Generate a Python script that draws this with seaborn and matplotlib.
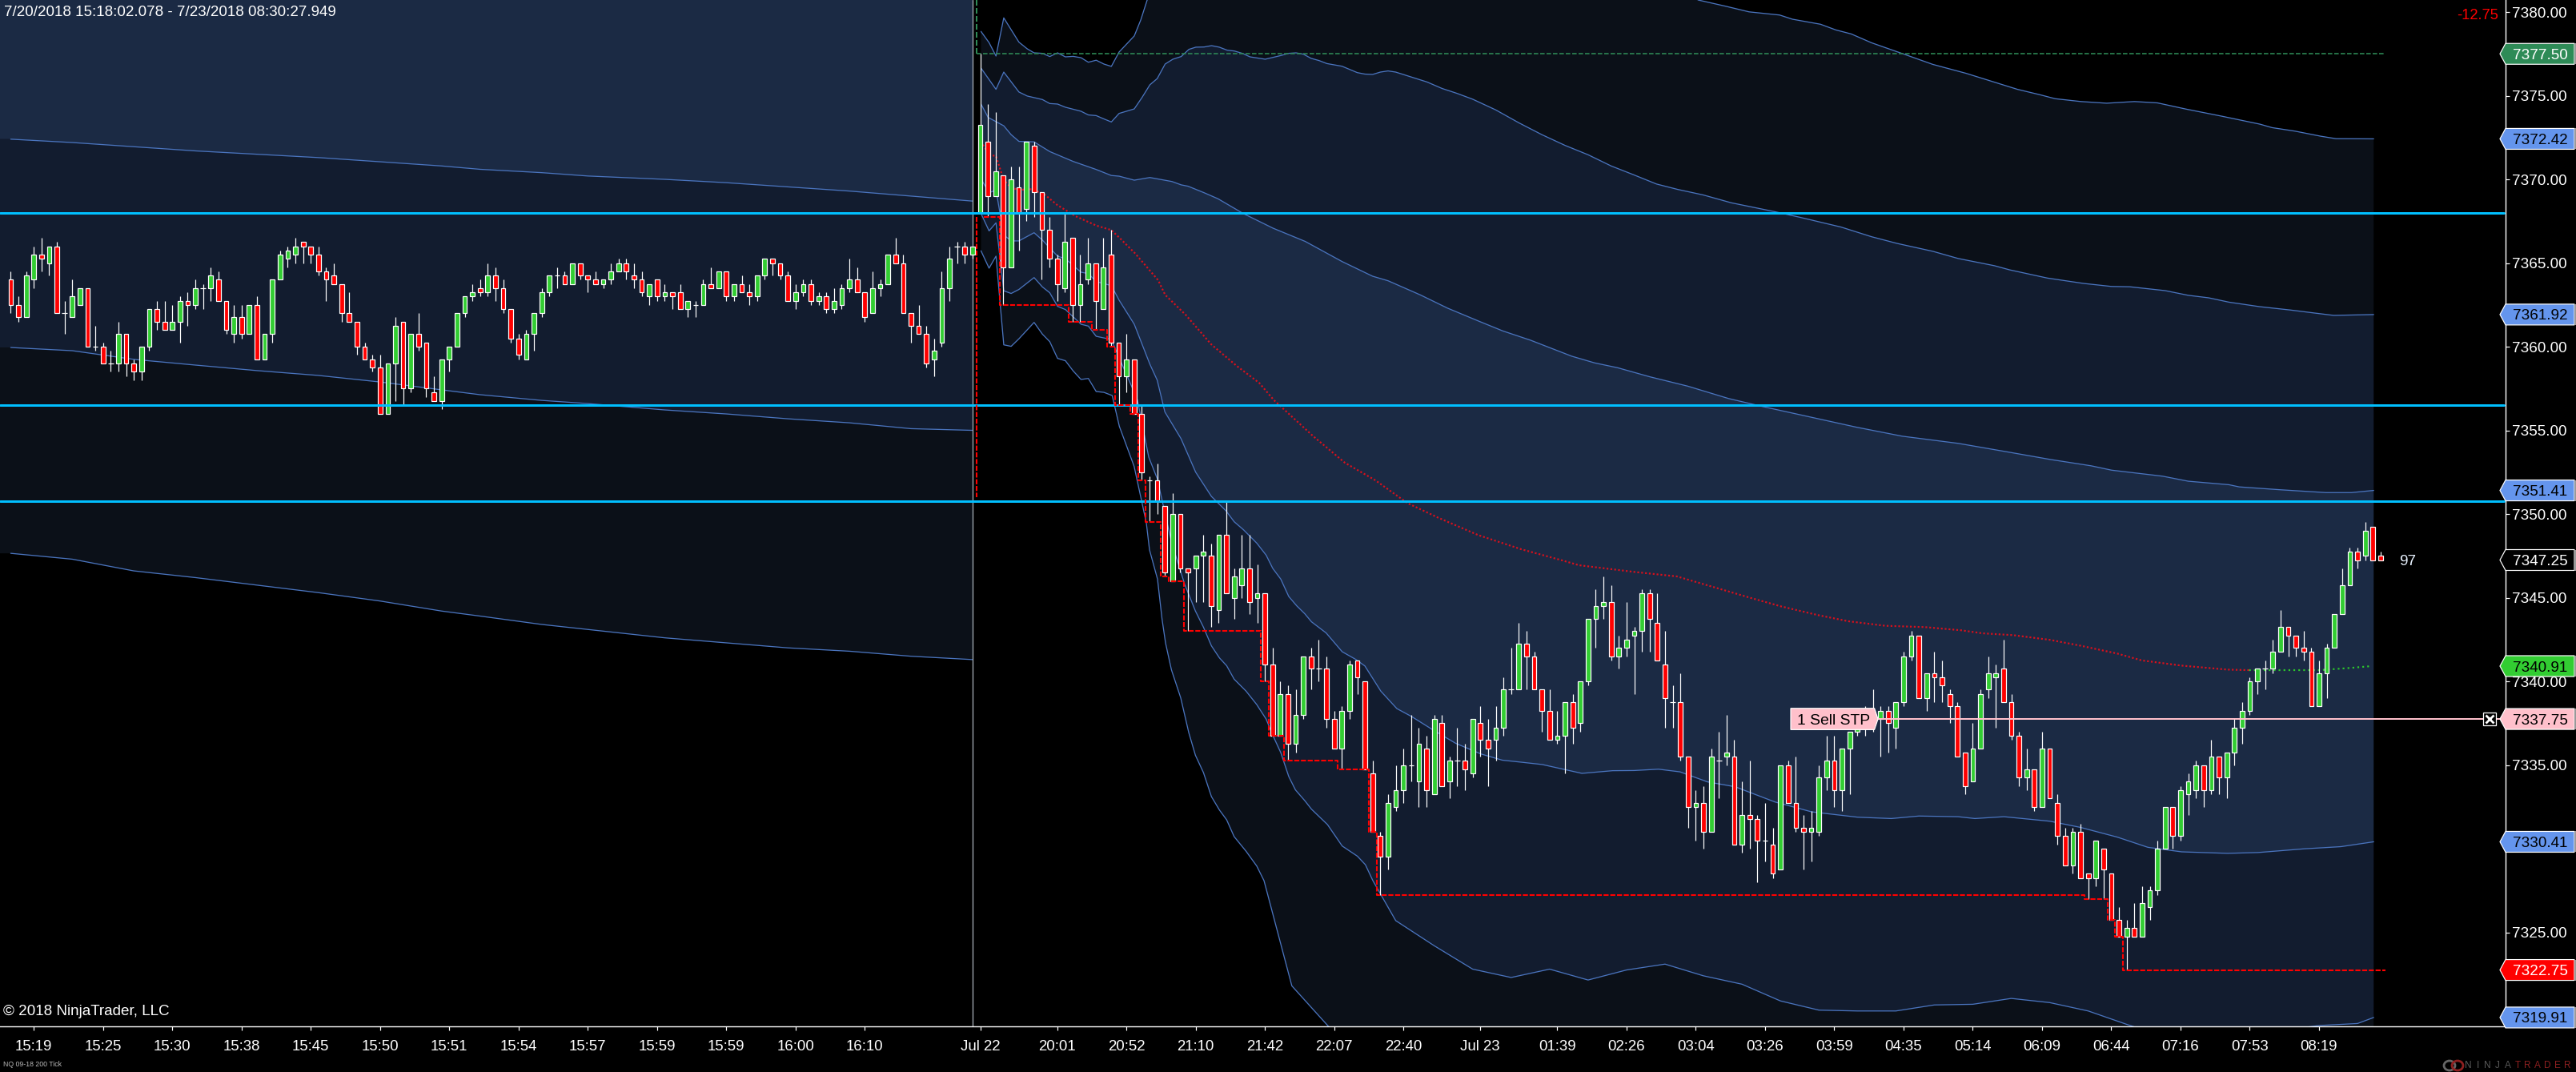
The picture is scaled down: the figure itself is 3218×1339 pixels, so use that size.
import numpy as np
import matplotlib
matplotlib.use("Agg")
import matplotlib.pyplot as plt
from matplotlib.patches import Polygon, Ellipse, Rectangle
from matplotlib.transforms import blended_transform_factory
import seaborn as sns

W, H = 3218, 1339
AX_R, AX_B = 3130, 1282
BASE = 7300

# ---------- candles (price minus 7300) ----------
opens = [64,62.5,61.75,64,65.5,65,66,62,61.75,62.5,
63.5,60,60,59,59,60.75,59,58.5,60,62.25,
61.5,61,61.5,62.75,62.5,63.5,63.5,64,62.75,60.75,
61.75,60.75,62.5,59.25,60.75,64,65.25,65.5,66.25,66,
65.5,64.5,64.25,63.75,62,61.5,60,59.25,58.75,56,
59,61.5,57.5,60.75,60.25,57.25,56.75,59.25,60,62,
63,63.5,63.25,64.25,63.5,62.25,60.5,59.25,60.75,62,
63.25,64.25,64.25,63.75,65,64.25,64,63.75,64,64.5,
65,64.25,64,63,64,63,63.25,63.25,62.25,62.5,
62.5,63.75,63.5,64.5,63,63.75,63.25,63,64.25,65.25,
65,64.25,62.75,63.25,63.75,62.75,63,62.25,62.5,63.5,
64,63.25,62,63.5,63.75,65.5,65,62,61.25,60.75,
59.25,60.25,63.5,66,66,65.5,68,72.25,69,70.25,
64.75,69.5,68.25,72,69.25,67,65.25,63.5,66.5,62.5,
64,65,62.25,65.5,60.25,58.25,59.25,56,52,52,
50.5,46,50,46.75,46.75,47.5,47.5,44.25,48.75,45,
45.75,46.75,45,45.25,41,36.75,39.25,36.25,38,41.5,
40.75,40.75,37.75,36,38.25,41.25,40,34.5,30.75,29.5,
32.5,33.5,35,34,36,33.25,37.5,34,35.25,35.25,
34.5,37.5,36.5,36.5,37.25,39.5,39.5,42.25,41.5,39.5,
38.25,36.5,36.75,38.75,37.5,40,43.75,44.5,44.75,41.5,
42,42.75,43,45.25,43.5,41,38.75,38.75,35.5,32.5,
32.75,31,35.25,35.5,35.5,30.25,32,31.75,30.5,30.25,
28.75,35,32.75,31.25,31,31,34.25,35.25,33.5,36,
37,38,37.5,37.75,38.25,37.25,38.75,41.5,42.75,39,
40.5,40.25,39.25,38.5,35.75,34,36,39.5,40.25,40.75,
38.75,36.75,34.25,34.75,32.5,36,32.75,30.75,29,31,
28.5,28.25,30,28.5,25.75,24.75,25.25,24.75,26.5,27.5,
30,32.5,30.75,33.25,33.5,35,33.5,35.5,34.25,35.75,
37.25,38.25,40,40.75,40.75,41.75,43.25,42.75,42,41.75,
38.5,40.5,42,44,45.75,47.75,47.5,49.25,47.5]

closes = [62.5,61.75,64.25,65.5,65.25,66,62,62,63,63.5,
60,60,59,59,60.75,59,58.5,60,62.25,61.5,
61,61.5,62.75,62.5,63.5,63.5,64.25,62.75,61,61.75,
60.75,62.5,59.25,60.75,64,65.5,65.75,66,66,65.5,
64.5,64,63.75,62,61.5,60,59.25,58.75,56,59,
61.25,57.5,60.75,60,57.5,56.75,59.25,60,62,63,
63.25,63.25,64.25,63.5,62.25,60.5,59.5,60.75,62,63.25,
64.25,64.25,63.75,65,64.25,64,63.75,64,64.5,65,
64.5,64,63.25,63.75,63,63.25,63,62.25,62.75,62.5,
63.75,63.5,64.5,63,63.75,63.25,63,64.25,65.25,65,
64.25,62.75,63.25,63.75,62.75,63,62.25,62.75,63.5,64,
63.25,61.75,63.5,63.75,65.5,65,62,61.25,60.75,59,
59.75,63.5,65.25,66,65.5,66,73.25,69,70.5,64.75,
70,68,72.25,69.25,67,65.25,63.75,66.25,62.5,63.75,
65,62.75,64.75,60.25,58.25,59.25,56,52.5,52,50.75,
46.5,50,46.75,46.5,47.5,47.75,44.5,48.75,45.25,46.25,
46.75,44.75,45.25,41,36.75,39.25,36.25,38,41.5,40.75,
40.75,37.75,36,38.25,41,40.25,34.75,31,29.5,32.75,
33.5,35,35,36.25,33.5,37.75,33.75,35.25,35.25,34.75,
37.75,36.5,36,37.25,39.5,39.5,42.25,41.5,39.5,38.25,
36.5,36.75,38.75,37.25,40,43.75,44.5,44.75,41.5,42,
42.5,43,45.25,43.75,41.25,39,38.75,35.5,32.5,32.75,
31,35.5,35.25,35.75,30.25,32,31.75,30.5,30.5,28.5,
35,32.75,31.25,31,31.25,34.25,35.25,33.5,36,37,
37.75,37.25,38.25,38.25,37.5,38.75,41.5,42.75,39,40.5,
40.25,39.75,38.5,35.5,33.75,36,39.25,40.5,40.5,38.75,
36.75,34.25,34.75,32.5,36,33,30.75,29,31,28.25,
28.25,30.5,28.75,25.75,24.75,25.25,24.75,26.75,27.5,30,
32.5,30.75,33.5,34,35,33.5,35.5,34.25,35.75,37.25,
38.25,40,40.75,40.75,41.75,43.25,42.75,42,41.75,38.5,
40.5,42,44,45.75,47.75,47.25,49,47.25,47.25]

highs = [64.5,63,64.5,66,66.5,66,66.25,62.75,64,63.5,
63.5,61.25,60.25,59.75,61.5,60.75,59.25,60,62.25,62.75,
62.75,62.5,63,63.25,64,63.75,64.75,64.5,62.75,62.5,
62.5,62.5,63,60.75,64,65.75,66,66.5,66.25,66,
66,64.75,65,63.75,63.25,61.5,60.25,59.5,59.5,59,
61.75,61.5,60.75,62,60.25,58.25,59.25,60,62,63,
63.75,64,65,64.75,64,62.25,60.75,61,62,63.5,
64.25,64.75,64.5,65,65,64.25,64.5,64,65,65.25,
65.25,65,64.5,63.75,64,63.75,63.25,63.75,62.75,62.75,
64,64.75,64.5,64.5,63.75,64.25,63.75,64.25,65.25,65.25,
65,64.5,63.75,64,64,63.25,63.25,63.5,63.75,65.25,
64.75,63.25,64.5,64,65.5,66.5,65.5,62,62.5,61.25,
60.5,64.5,66,66.25,66.25,66,77.5,74.5,74,70.25,
70.75,70.75,72.25,72.25,69.25,67.75,65.5,68,66.5,65.5,
66.5,65,66.5,67,60.25,60.75,59.25,56.5,52.25,53,
50.5,51.25,50,46.75,47.5,48.75,48.25,48.75,50.75,46.75,
48.75,48.75,47,45.25,42,40,39.75,39.5,41.5,42,
42.5,41.5,38.25,38.5,41.25,41.25,40,35.25,31,33.25,
35,36,38,37.25,36.75,38,38,35.5,37.25,36.25,
37.75,38.5,37.75,38.5,40.25,42,43.5,43,41.75,39.5,
39.5,38.25,38.75,39.25,40,43.75,45.5,46.25,45.75,42.75,
44.75,43.25,45.5,45.5,45.25,43,39.75,40.5,35.5,33.5,
33.75,36,37,38,36.5,34,35.25,32,32.75,31.25,
35,35.25,35.5,32,32.25,35,36.75,36.75,36,37,
38,38.5,39.5,38.5,38.5,38.75,41.75,43,42.75,40.5,
41.75,41.25,39.5,38.75,35.75,37.5,39.5,41.5,41,42.5,
39.25,37,36,34.75,37,36,33.25,31.25,31.25,31.5,
28.5,30.5,30,28.5,26.5,25.75,26.75,27.75,27.75,30.5,
32.5,32.5,33.75,34.5,35.25,35,36.5,35.5,35.75,37.75,
38.75,40.25,40.75,41.25,42.5,44.25,43.25,42.75,43,42,
41.25,42.25,44,46.75,48,48,49.5,49.25,47.75]

lows = [62,61.5,61.75,63.5,64.5,64.25,62,60.75,61.75,62.5,
60,59.75,59,58.5,58.5,58.25,58,58,59.75,61,
61,61,60.25,61.25,62.25,62.25,62.75,62.75,60.75,60.25,
60.5,60.75,59.25,59.25,60.25,64,64.75,65,65,65,
64.25,62.75,63.75,61.5,61.5,59.5,59.25,58.5,56,56,
56.75,56.5,57.25,59.75,57,56.75,56.25,58.5,60,61.75,
62.75,63,63,62.75,62,60.25,59.25,59.25,59.75,61.75,
63,63.5,63.75,63.75,64,63.25,63.75,63.5,63.75,64.5,
64,63.5,63,62.5,62.75,62.75,62.25,62.25,61.75,61.75,
62.5,63.5,63.5,62.75,62.75,63.25,62.5,62.75,64,64.25,
64,62.75,62.25,63,62.5,62.5,62,62,62.25,63.25,
63.25,61.5,62,63,63.75,65,62,60.25,60.75,58.75,
58.25,60,62.75,65,65,65.25,68,67.75,69,62.5,
64.75,65.75,67.5,67.75,64,64.75,62.75,63.25,61.5,61.5,
63.75,61,62.25,60,56.5,57.25,56,52,49.5,50,
46.25,46,46.5,43,44.75,44.75,43.25,43.5,45.25,43.75,
45,44,43.5,40,36.75,36.75,35.25,35.75,37.75,39.5,
40,37.25,36,34.75,37.75,39.25,34.75,31,27.25,28.75,
32.25,32.75,34,32.5,32.5,33.25,33.75,33,33.75,33.5,
34.25,35.5,33.75,35.25,36.75,39.25,39.5,39.5,39.5,37,
36.5,36.25,34.5,36.25,37,39.75,42,43.75,41.25,40.75,
41.5,39.25,41.75,41.75,41.25,37.25,37.25,35.25,31.25,30.5,
30,31,33,35,30.25,29.75,30,28,29.25,28.25,
28.75,32.75,31,28.75,29.25,30.75,33.5,32.5,32.25,33.25,
36.75,36.75,37,35.5,35.75,36,38.5,41.25,39,38.25,
38.75,38.75,37.5,35.5,33.25,34,36,39,37.25,38.75,
36.5,33.75,33.5,32.25,32.5,33,30.25,29,28.5,28.25,
27,27.75,27,25.75,24.75,22.75,24.75,24.75,25.75,27.25,
30,30,30.5,32,33,32.5,33.25,33.25,33,35,
36.25,38,39.25,39.5,40.5,41.75,41.5,41.5,41.25,38.5,
38.5,39,42,44,45.75,46.75,47.25,47.25,47.25]

# ---------- first-session bands ----------
left_x = [0,8,16,24,32,40,48,56,61,69,75,85,93,101,109,117,125]
left_dn1 = [72.4,72.2,71.95,71.7,71.5,71.3,71.05,70.8,70.6,70.4,70.2,70.0,69.8,69.55,69.3,69.0,68.7]
left_dn2 = [59.95,59.76,59.24,58.9,58.57,58.28,57.89,57.42,57.13,56.79,56.6,56.22,55.98,55.69,55.45,55.1,55.0]
left_dn3 = [47.65,47.3,46.6,46.2,45.75,45.3,44.8,44.2,43.9,43.4,43.1,42.6,42.3,42.0,41.8,41.5,41.3]

# ---------- second-session bands ----------
u3_x = [126.1,127.15,128.05,129.06,131.03,132.11,133,134.08,135.04,136.05,137.07,138.08,139.1,140.05,141.07,142.08,143.04,144.05,146.02,146.86,147.7,150,160,200,215,219.29,222.94,225.92,229.9,231.56,235.2,237.2,239.2,241.85,246.5,249.8,254.1,260.8,263.7,265.7,269.05,272.4,276,279,282.7,287.3,292.3,293.9,296.9,300.2,302.2,307.1]
u3_y = [78.84,78.17,77.37,79.65,78.2,77.8,77.56,77.53,77.34,77.56,77.32,77.35,77.27,77,77.12,76.89,76.75,77.61,78.57,79.52,80.72,84,90,90,83,80.72,80.34,80.01,79.82,79.57,79.27,78.93,78.69,78.16,77.41,76.87,76.34,75.38,75.06,74.82,74.65,74.55,74.65,74.57,74.2,73.78,73.3,73.09,72.88,72.58,72.43,72.42]

u2_x = [126.1,128.05,129.06,131.03,132.11,134.08,135.04,136.05,137.07,139.1,140.05,141.07,142.08,143.04,144.05,146.02,147.04,148.05,149,150.03,151.04,152.12,153.13,154.03,155.1,156.06,157.07,158.09,159.04,160.06,161.07,163.04,165.07,166.09,167.04,168,169.01,170.03,171.05,173.02,175,176,177,178,179,180,184.06,186.03,187.95,190,193,196,199,202,205,208,210.94,213.9,216.63,219.95,223.6,229.24,232.56,237.87,241.85,245.17,249.8,253.1,257.8,259.8,264.7,269.4,273,275.4,280,283,285.65,288.3,292.3,296.3,299.6,301.9,307.1]
u2_y = [76.65,75.38,76.41,75.22,74.98,74.77,74.53,74.5,74.31,74.07,73.85,73.81,73.61,73.43,73.94,74.21,74.9,75.65,76.02,76.89,77.18,77.34,77.77,77.9,77.91,77.99,77.9,77.72,77.67,77.53,77.32,77.18,77.4,77.53,77.56,77.48,77.23,77.1,76.92,76.76,76.38,76.29,76.27,76.41,76.48,76.41,75.82,75.43,75.14,74.79,74.15,73.38,72.67,72.03,71.47,70.8,70.27,69.72,69.4,69.07,68.6,68.07,67.73,67.15,66.57,66.17,65.7,65.27,64.84,64.59,64.1,63.78,63.6,63.58,63.35,63.07,62.92,62.66,62.39,62.19,62,61.87,61.92]

u1_x = [126.1,127.03,129.06,130.02,131.03,133,135.04,138.08,141.07,143.04,144.05,146.02,148.05,150.92,152.12,153.01,155.1,156.9,160.18,164.06,168.24,173.02,177,179,183.17,186.75,190.93,193.92,197.5,202.88,205.86,208.85,213.03,217.96,223.27,227.9,232.56,239.86,245.83,253.13,259.77,265.07,270.38,273.04,279.67,283,288.3,289.63,294.93,300.9,304.2,307.1]
u1_y = [74.5,73.7,73.2,72.67,72.27,72.24,71.66,71.07,70.59,70.23,70.19,69.95,70.11,69.87,69.67,69.59,69.2,68.84,67.96,67.08,66.29,65.09,64.21,63.94,63.1,62.3,61.5,60.94,60.39,59.43,59.03,58.74,58.2,57.64,56.9,56.4,55.93,55.19,54.65,54.22,53.69,53.26,52.88,52.62,52.26,51.96,51.75,51.62,51.45,51.28,51.28,51.41]

mid_x = [126.1,127.15,128.05,129.06,130.02,131.03,132.4,134.2,136,138.38,141.07,143.04,144.05,146.14,149.13,150.03,152.71,156,159.28,162.27,164.18,169.3,173.4,177.37,181.53,185.52,190.72,196.27,201.62,203.81,210.97,216.55,221.33,226.1,230.08,234.86,238.84,243.62,248.79,253.49,256.26,260.24,265.02,269,273.78,276.96,282.14,288.11,290.9]
mid_y = [72.27,71.47,71.39,69.95,69.51,69.36,69.43,69.16,68.47,67.8,67.24,66.97,66.53,65.57,63.97,63.1,61.9,60.15,58.87,57.83,56.8,54.64,53.06,52.01,50.65,49.78,48.74,47.9,47.23,46.94,46.54,46.27,45.63,44.99,44.48,43.96,43.59,43.32,43.24,43.05,42.87,42.76,42.48,42.13,41.66,41.25,40.94,40.7,40.67]
mid_up_x = [290.9,300.05,304.03,306.82]
mid_up_y = [40.67,40.67,40.8,40.91]

d1_x = [126.1,127.15,128.05,129.06,130.02,131.03,133,134.08,136.05,137.07,139.1,140.05,141.07,143.04,144.05,146.02,148.05,149,150,152.1,154,156.05,157.96,159,160.21,161.94,163.16,164.02,165.06,166.1,167.14,168.18,169.05,170.96,173.04,174.77,175.99,178.07,180.15,182.05,184.83,187.78,191.07,193.84,196.27,199.03,204.2,208.19,210.97,214.16,216.95,220.53,224.11,229.29,234.06,240.04,244.41,248,253.08,255.27,259.05,265.02,269,273.78,277.76,282.14,288.11,292.09,298.06,302.84,307.1]
d1_y = [70.03,69.2,69.36,66.68,66.32,66.32,66.81,66.37,65.41,65.25,64.45,64.37,63.89,63.65,62.78,61.34,58.95,58,56.1,54.5,52.5,51.05,50.18,49.54,49.06,48.26,47.54,46.75,46.11,45.07,44.51,44.04,43.56,42.89,41.77,41.32,40.92,39.41,38.37,37.9,37.1,36.3,35.66,35.29,35.17,35.03,34.5,34.66,34.67,34.75,34.59,33.99,33.7,32.79,32.2,31.88,31.8,31.95,31.91,31.8,31.91,31.64,31.27,30.69,30.08,29.81,29.72,29.77,29.99,30.12,30.41]

d2_x = [126.1,127.15,128.05,129.06,130.02,131.03,133,134.08,135.04,136.05,137.07,139.1,140.05,141.07,143.04,144.05,146.02,146.44,147.9,149,150.85,152.58,153.97,155.01,156.05,157.09,158.03,159,160.56,161.94,163.16,164.02,165.06,166.1,166.97,168.18,169.05,171.13,173.04,175.02,176.06,177.03,180,185,190,195,200,205,210,215,220,225,230,235,240,245,250,255,260,265,270,275,280,285,290,295,300,305,307.1]
d2_y = [67.96,66.92,67.4,63.34,63.18,63.42,64.13,63.57,63.22,62.41,62.22,61.34,61.23,60.62,60.43,59.35,57.27,56.8,53.4,52.12,48.34,45.79,44.2,43.24,42.12,41.4,40.93,40.13,39.41,38.61,37.74,36.78,35.74,34.31,33.51,32.87,32.36,31.44,30.16,29.55,29.04,28.09,25.7,24.2,22.8,22.3,22.8,22.15,22.75,23.1,22.4,21.9,20.9,20.35,20.3,20.3,20.66,20.7,21.05,20.8,20.3,19.5,18.75,18.7,18.83,19.13,19.43,19.55,19.91]

d3_x = [126.1,127.15,128.05,129.06,130.02,131.03,133,134.08,135.04,136.05,137.07,138.08,139.1,140.05,141.07,142.08,143.15,144.08,146,147.03,147.59,148,149.04,149.63,150.09,150.85,152.06,153.1,153.97,155.01,156.05,157.09,158.03,159,160.56,161.94,162.88,166.5,172,175,182,307.1]
d3_y = [65.73,64.69,65.41,60.11,60.02,60.47,61.45,60.75,60.3,59.3,59.16,58.55,58.04,58.1,57.32,57.27,57.08,55.24,52.85,50.66,49.46,47.86,46.11,43.72,42.28,40.69,39.01,36.94,35.58,34.55,33.11,32.31,31.72,30.72,29.84,28.96,28.09,21.8,19,17,12,9.4]

# ---------- reference levels ----------
cyan_levels = [68, 56.5, 50.75]
session_high = 77.5
order_price = 37.75

# ---------- labels ----------
x_tick_pos = [3,12,21,30,39,48,57,66,75,84,93,102,111,126,136,145,154,163,172,181,191,201,210,219,228,237,246,255,264,273,282,291,300]
x_tick_lab = ["15:19","15:25","15:30","15:38","15:45","15:50","15:51","15:54","15:57","15:59","15:59","16:00","16:10","Jul 22","20:01","20:52","21:10","21:42","22:07","22:40","Jul 23","01:39","02:26","03:04","03:26","03:59","04:35","05:14","06:09","06:44","07:16","07:53","08:19"]
y_ticks = [20,25,30,35,40,45,50,55,60,65,70,75,80]
y_hidden_labels = [20, 30]
flag_prices = [77.50,72.42,61.92,51.41,47.25,40.91,37.75,30.41,22.75,19.91]
flag_fill = ["#2E8B57","#6495ED","#6495ED","#6495ED","#000000","#32CD32","#FFC0CB","#6495ED","#FF0000","#6495ED"]
flag_text = ["white","black","black","black","white","black","black","black","white","black"]

# ---------- theme ----------
sns.set_theme(style="dark", rc={"axes.facecolor": "black", "figure.facecolor": "black"})
plt.rcParams["font.family"] = ["Liberation Sans", "DejaVu Sans"]

C_BRIGHT, C_MID, C_DARK = "#1B2A44", "#121C2F", "#0B1018"
C_LINE = "#4A74BE"
PX = 0.72

fig = plt.figure(figsize=(W / 100, H / 100), dpi=100, facecolor="black")
ax = fig.add_axes([0, 1 - AX_B / H, AX_R / W, AX_B / H], facecolor="black")
X_LEFT = -13.4 / 9.612
ax.set_xlim(X_LEFT, (AX_R - 13.4) / 9.612)
ax.set_ylim(BASE + 19.38, BASE + 80.718)
trans = blended_transform_factory(ax.transAxes, ax.transData)


def arr(v):
    return np.asarray(v, dtype=float) + BASE


def band(x1, y1, x2, y2, color):
    ax.fill(np.r_[x1, x2[::-1]], np.r_[arr(y1), arr(y2)[::-1]], color=color, lw=0, zorder=1)


# left session fill
lx = np.r_[X_LEFT, left_x]
l1, l2, l3 = ([v[0]] + v for v in (left_dn1, left_dn2, left_dn3))
ax.fill(np.r_[lx, 125, X_LEFT], np.r_[arr(l1), BASE + 90, BASE + 90], color=C_BRIGHT, lw=0, zorder=1)
band(lx, l1, lx, l2, C_MID)
band(lx, l2, lx, l3, C_DARK)

# right session fill
band(np.array(u3_x), u3_y, np.array(u2_x), u2_y, C_DARK)
band(np.array(u2_x), u2_y, np.array(u1_x), u1_y, C_MID)
band(np.array(u1_x), u1_y, np.array(d1_x), d1_y, C_BRIGHT)
band(np.array(d1_x), d1_y, np.array(d2_x), d2_y, C_MID)
band(np.array(d2_x), d2_y, np.array(d3_x), d3_y, C_DARK)

# band outlines
for xs, ys in [(left_x, left_dn1), (left_x, left_dn2), (left_x, left_dn3),
               (u3_x, u3_y), (u2_x, u2_y), (u1_x, u1_y),
               (d1_x, d1_y), (d2_x, d2_y), (d3_x, d3_y)]:
    sns.lineplot(x=xs, y=arr(ys), ax=ax, color=C_LINE, linewidth=1.3 * PX, estimator=None,
                 sort=False, errorbar=None, legend=False, zorder=2)

# centre line, dotted
sns.lineplot(x=mid_x, y=arr(mid_y), ax=ax, color="#D8101C", linewidth=2.2 * PX, estimator=None, sort=False,
             errorbar=None, legend=False, zorder=2, linestyle=(0, (1, 1.2)))
sns.lineplot(x=mid_up_x, y=arr(mid_up_y), ax=ax, color="#2CC62C", linewidth=2.2 * PX, estimator=None, sort=False,
             errorbar=None, legend=False, zorder=2, linestyle=(0, (1, 1.8)))

# session separator
ax.axvline(125, color="#A8B0B8", lw=1.3 * PX, zorder=2.5)

# candles
idx = np.arange(len(opens))
o, c, hi, lo = arr(opens), arr(closes), arr(highs), arr(lows)
assert len({len(opens), len(closes), len(highs), len(lows)}) == 1
ax.vlines(idx, lo, hi, color="white", lw=1.2 * PX, zorder=3)
for mask, col in [(c > o, "#32CD32"), (c < o, "#FF0000")]:
    ax.bar(idx[mask], np.abs(c - o)[mask], bottom=np.minimum(o, c)[mask], width=0.6,
           color=col, edgecolor="white", linewidth=1.2 * PX, zorder=4)
d = c == o
ax.hlines(o[d], idx[d] - 0.34, idx[d] + 0.34, color="white", lw=1.2 * PX, zorder=4)

# session high and running low
ax.plot([125.5, 125.5], [BASE + 80.72, BASE + session_high], color="#2E8B57", lw=2 * PX,
        ls=(0, (3.5, 1.5)), zorder=5)
ax.plot([125.5, 308.4], [BASE + session_high] * 2, color="#2E8B57", lw=1.6 * PX, ls=(0, (3.5, 1.5)), zorder=2.5)
run_low = np.minimum.accumulate(lo[127:])
ax.step(np.r_[idx[127:] - 0.5, 308.6], np.r_[run_low, run_low[-1]], where="post", color="#FF0000",
        lw=2.1 * PX, ls=(0, (3, 1)), zorder=6)
ax.plot([125.5, 125.5], [BASE + 67.75, BASE + 51], color="#FF0000", lw=2.1 * PX, ls=(0, (3, 1)), zorder=6)

# horizontal levels
for lv in cyan_levels:
    ax.axhline(BASE + lv, xmax=3128 / AX_R, color="#00BFFF", lw=3 * PX, zorder=5)
ax.axhline(BASE + order_price, xmin=2346 / AX_R, color="#FFC0CB", lw=2 * PX, zorder=7)


def flag(price, x0, x1, tip, face, edge="white", halfpx=13):
    hp = halfpx / 20.9
    y = BASE + price
    pts = [(tip, y), (x0, y + hp), (x1, y + hp), (x1, y - hp), (x0, y - hp)]
    pts = [(a / AX_R, b) for a, b in pts]
    ax.add_patch(Polygon(pts, closed=True, transform=trans, facecolor=face, edgecolor=edge,
                         lw=1.2 * PX, clip_on=False, zorder=10))


for p, f, t in zip(flag_prices, flag_fill, flag_text):
    flag(p, 3130, 3216, 3123, f)
    ax.add_patch(Rectangle((3216 / AX_R, BASE + p - 13 / 20.9), 2 / AX_R, 26 / 20.9, transform=trans,
                           facecolor="#999999", lw=0, clip_on=False, zorder=10))
    ax.text(3139 / AX_R, BASE + p, f"{BASE + p:.2f}", transform=trans, ha="left", va="center_baseline",
            color=t, fontsize=13.6, clip_on=False, zorder=11)

# order tag
flag(order_price, 2341.6, 2237, 2346, "#FFC0CB", halfpx=13.3)
ax.text(2245 / AX_R, BASE + order_price, "1 Sell STP", transform=trans, ha="left", va="center_baseline",
        color="black", fontsize=13.9, zorder=11)
ax.plot([322.2], [BASE + order_price], marker="s", ms=11, mfc="black", mec="white", mew=0.9, zorder=11)
ax.plot([322.2], [BASE + order_price], marker="x", ms=6.5, mec="white", mew=2, zorder=12)

# texts on chart
ax.text(3095 / AX_R, 1 - 20 / AX_B, "-12.75", transform=ax.transAxes, ha="center", va="center",
        color="#FF0000", fontsize=13.2, zorder=11)
ax.text(2997 / AX_R, BASE + 47.25, "97", transform=trans, ha="left", va="center_baseline",
        color="#E8F2FF", fontsize=13.6, zorder=11)
ax.text(5 / AX_R, 1 - 16 / AX_B, "7/20/2018 15:18:02.078 - 7/23/2018 08:30:27.949", transform=ax.transAxes,
        ha="left", va="center", color="white", fontsize=13.5, zorder=11)
ax.text(4 / AX_R, 1 - 1264 / AX_B, "\u00a9 2018 NinjaTrader, LLC", transform=ax.transAxes,
        ha="left", va="center", color="white", fontsize=13.6, zorder=11)

# axes
ax.set_xticks(x_tick_pos)
ax.set_xticklabels(x_tick_lab)
ax.set_yticks([BASE + v for v in y_ticks])
ax.set_yticklabels(["" if v in y_hidden_labels else f"{BASE + v:.2f}" for v in y_ticks])
ax.yaxis.tick_right()
ax.tick_params(axis="x", bottom=True, length=3.6, width=1.2 * PX, color="white", labelcolor="white",
               labelsize=13.4, pad=9)
ax.tick_params(axis="y", right=True, length=3.6, width=1.2 * PX, color="white", labelcolor="white",
               labelsize=13.6, pad=2.2)
for s in ("top", "left"):
    ax.spines[s].set_visible(False)
for s in ("right", "bottom"):
    ax.spines[s].set_visible(True)
    ax.spines[s].set_color("white")
    ax.spines[s].set_linewidth(1.4 * PX)
ax.grid(False)
ax.set_xlabel("")
ax.set_ylabel("")

# footer
fig.text(4 / W, 1 - 1330 / H, "NQ 09-18 200 Tick", color="#B8B8B8", fontsize=6.3, ha="left", va="center")
logo_letters = "NINJATRADER"
for i, ch in enumerate(logo_letters):
    fig.text((3083 + i * 12.4) / W, 1 - 1331 / H, ch, fontsize=8.5, ha="center", va="center",
             color="#5A5A5A" if i < 5 else "#8E2020")
fig.add_artist(Ellipse((3060 / W, 1 - 1331 / H), 14 / W, 12 / H, transform=fig.transFigure,
                       fill=False, edgecolor="#666666", lw=2))
fig.add_artist(Ellipse((3070 / W, 1 - 1331 / H), 14 / W, 12 / H, transform=fig.transFigure,
                       fill=False, edgecolor="#8E2020", lw=2))

fig.savefig("out.png", dpi=100, facecolor="black")
